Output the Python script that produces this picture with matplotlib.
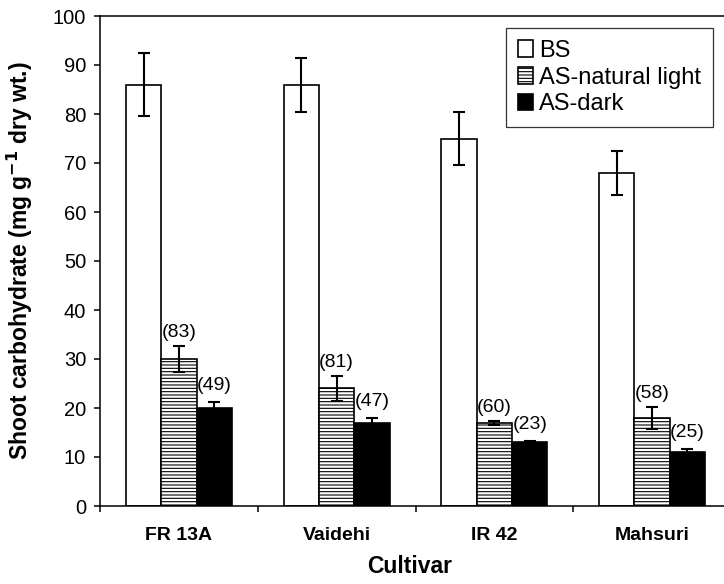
import numpy as np
import matplotlib.pyplot as plt

plt.rcParams['font.family'] = ['Liberation Sans', 'DejaVu Sans']
plt.rcParams['hatch.linewidth'] = 0.8
plt.rcParams['hatch.color'] = '#444444'

# Data
cultivars = ['FR 13A', 'Vaidehi', 'IR 42', 'Mahsuri']
bs = [86, 86, 75, 68]
bs_err = [6.5, 5.5, 5.5, 4.5]
natural = [30, 24, 17, 18]
natural_err = [2.7, 2.5, 0.4, 2.2]
dark = [20, 17, 13, 11]
dark_err = [1.2, 0.9, 0.3, 0.7]
natural_pct = ['(83)', '(81)', '(60)', '(58)']
dark_pct = ['(49)', '(47)', '(23)', '(25)']

fig = plt.figure(figsize=(7.24, 5.84), dpi=100)
# the right part of the frame runs past the picture edge
ax = fig.add_axes([100 / 724, 1 - 506 / 584, 631 / 724, 490 / 584])

x = np.arange(len(cultivars))
w = 0.224
err_kw = dict(ecolor='black', elinewidth=1.5, capsize=4.3, capthick=1.5)

ax.bar(x - w, bs, w, yerr=bs_err, color='white', edgecolor='black',
       linewidth=1.2, error_kw=err_kw, label='BS')
ax.bar(x, natural, w, yerr=natural_err, color='white', edgecolor='black',
       linewidth=1.2, hatch='-----', error_kw=err_kw, label='AS-natural light')
ax.bar(x + w, dark, w, yerr=dark_err, color='black', edgecolor='black',
       linewidth=1.2, error_kw=err_kw, label='AS-dark')

# percentages above the AS bars
for i in range(len(cultivars)):
    ax.text(x[i], natural[i] + natural_err[i] + 1.0, natural_pct[i],
            ha='center', va='bottom', fontsize=14)
    ax.text(x[i] + w, dark[i] + dark_err[i] + 1.6, dark_pct[i],
            ha='center', va='bottom', fontsize=14)

ax.set_xlim(-0.5, len(cultivars) - 0.5)
ax.set_ylim(0, 100)
ax.set_yticks(np.arange(0, 101, 10))
ax.set_xticks(x)
ax.set_xticklabels(cultivars, fontweight='bold', fontsize=14)
ax.set_xticks(np.arange(-0.5, len(cultivars)), minor=True)
ax.tick_params(axis='x', which='major', length=0, pad=15)
ax.tick_params(axis='x', which='minor', length=4, width=1.1)
ax.tick_params(axis='y', labelsize=14.5, length=4, width=1.1, pad=6)
for s in ax.spines.values():
    s.set_linewidth(1.1)

ax.set_xlabel('Cultivar', fontweight='bold', fontsize=16.5)
ax.xaxis.set_label_coords(0.49, -0.1)
ax.set_ylabel('Shoot carbohydrate (mg g$^{\\mathbf{-1}}$ dry wt.)',
              fontweight='bold', fontsize=16.5)
ax.yaxis.set_label_coords(-0.103, 0.5)

leg = fig.legend(loc='upper right', bbox_to_anchor=(713 / 724, 1 - 28 / 584),
                 borderaxespad=0, fontsize=17, frameon=True, fancybox=False,
                 edgecolor='black', handlelength=0.65, handleheight=0.7,
                 handletextpad=0.25, labelspacing=0.2, borderpad=0.5)
leg.get_frame().set_linewidth(0.9)

fig.savefig('out.png', dpi=100)
